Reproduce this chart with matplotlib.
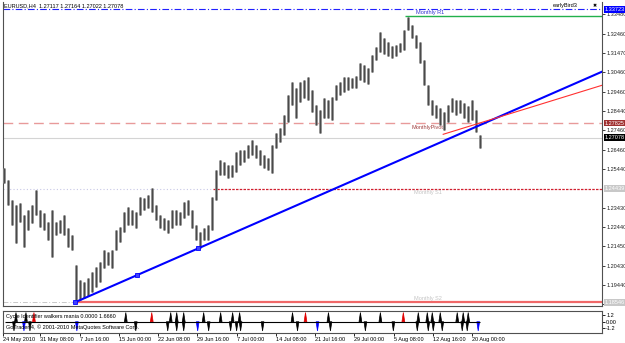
import matplotlib
matplotlib.use('Agg')
import matplotlib.pyplot as plt
import matplotlib.transforms as mtransforms
import numpy as np

# ---------------- data ----------------
symbol_text = "EURUSD,H4  1.27117 1.27164 1.27022 1.27078"
ea_name = "earlyBird3"

highs = [1.2550,1.2488,1.2385,1.2359,1.2369,1.2307,1.2333,1.2359,1.2436,1.2333,
         1.2317,1.2271,1.2333,1.2271,1.2281,1.2307,1.2240,1.2203,1.2048,1.1970,
         1.1960,1.1981,1.2012,1.2037,1.2063,1.2126,1.2115,1.2126,1.2229,1.2245,
         1.2322,1.2348,1.2333,1.2322,1.2400,1.2395,1.2410,1.2447,1.2359,1.2307,
         1.2291,1.2281,1.2333,1.2333,1.2322,1.2374,1.2385,1.2333,1.2255,1.2219,
         1.2240,1.2255,1.2400,1.2540,1.2592,1.2581,1.2566,1.2566,1.2633,1.2644,
         1.2644,1.2669,1.2695,1.2669,1.2644,1.2618,1.2602,1.2669,1.2732,1.2758,
         1.2825,1.2928,1.2996,1.2965,1.2996,1.3006,1.3022,1.2954,1.2877,1.2851,
         1.2913,1.2903,1.2918,1.2980,1.2996,1.3022,1.3022,1.3016,1.3027,1.3094,
         1.3084,1.3068,1.3136,1.3177,1.3255,1.3224,1.3203,1.3182,1.3187,1.3198,
         1.3265,1.3332,1.3291,1.3239,1.3203,1.3110,1.2980,1.2903,1.2877,1.2861,
         1.2840,1.2877,1.2913,1.2903,1.2903,1.2887,1.2871,1.2903,1.2851,1.2721]

lows = [1.2473,1.2359,1.2255,1.2162,1.2271,1.2141,1.2229,1.2265,1.2307,1.2245,
        1.2229,1.2177,1.2089,1.2203,1.2214,1.2203,1.2141,1.2126,1.1851,1.1867,
        1.1877,1.1887,1.1908,1.1934,1.1960,1.2032,1.2048,1.2032,1.2126,1.2167,
        1.2219,1.2255,1.2255,1.2240,1.2307,1.2333,1.2343,1.2322,1.2281,1.2240,
        1.2229,1.2214,1.2240,1.2255,1.2255,1.2291,1.2307,1.2240,1.2177,1.2136,
        1.2177,1.2177,1.2229,1.2385,1.2514,1.2514,1.2498,1.2504,1.2530,1.2566,
        1.2581,1.2602,1.2618,1.2602,1.2566,1.2550,1.2540,1.2524,1.2654,1.2685,
        1.2721,1.2789,1.2877,1.2809,1.2892,1.2913,1.2903,1.2840,1.2773,1.2732,
        1.2809,1.2809,1.2799,1.2903,1.2928,1.2944,1.2954,1.2965,1.2965,1.3006,
        1.2996,1.2985,1.3048,1.3110,1.3151,1.3141,1.3130,1.3120,1.3130,1.3151,
        1.3162,1.3265,1.3224,1.3172,1.3094,1.2980,1.2877,1.2825,1.2809,1.2773,
        1.2747,1.2789,1.2840,1.2825,1.2835,1.2809,1.2789,1.2799,1.2737,1.2654]

# price axis ticks
price_ticks = [1.33480, 1.32460, 1.31470, 1.30460, 1.29460, 1.28440, 1.27460,
               1.26460, 1.25440, 1.23430, 1.22440, 1.21450, 1.20430, 1.19440, 1.18460]

# time axis labels and their bar positions
time_labels = ["24 May 2010", "31 May 08:00", "7 Jun 16:00", "15 Jun 00:00", "22 Jun 08:00",
               "29 Jun 16:00", "7 Jul 00:00", "14 Jul 08:00", "21 Jul 16:00", "29 Jul 00:00",
               "5 Aug 08:00", "12 Aug 16:00", "20 Aug 00:00"]
time_pos = [-0.5, 8.8, 18.7, 28.5, 38.3, 48.2, 58.0, 67.8, 77.7, 87.5, 97.3, 107.2, 117.0]

# horizontal levels
level_top = 1.33723          # blue dash-dot line
monthly_r1 = 1.3337
monthly_pivot = 1.27825
current_price = 1.27078
monthly_s1 = 1.2444
monthly_s2 = 1.1854
r1_start, s1_start, s2_start = 100.25, 52.25, 17.75

# trend lines (bar, price)
trend_blue = [(17.75, 1.18546), (48.6, 1.21343)]
trend_red = [(109.8, 1.27248), (149.5, 1.29787)]

# Cycle identifier signals (bar positions)
up_black = [2.75, 5.25, 30.25, 41.5, 43, 44.75, 49.75, 54, 57, 58.75, 72, 81, 89, 94,
            103.5, 105.75, 107, 109, 113.25, 114.75, 116]
up_red = [7.25, 36.75, 75.25, 99.75]
dn_black = [2.25, 6.25, 32.75, 40.75, 43, 44.75, 51, 56.5, 58, 59, 64.5, 73.25, 81.5,
            90.25, 97.25, 103.25, 106, 107.25, 109.5, 114.5, 115.75]
dn_blue = [4.75, 18, 48.25, 78.25, 118.5]
spike = 1.666

# ---------------- figure ----------------
W, H = 625, 343
fig = plt.figure(figsize=(W / 100, H / 100), dpi=100)
plt.rcParams['font.family'] = ['Liberation Sans', 'DejaVu Sans']
FS = 4.0

def box(x0, y0, x1, y1):
    return [x0 / W, 1 - y1 / H, (x1 - x0) / W, (y1 - y0) / H]

ax = fig.add_axes(box(3, 2, 602, 306))
axs = fig.add_axes(box(3, 311, 602, 332.5))

xlim = (-0.25, 149.5)
ylim = (1.18354, 1.34101)
ax.set_xlim(*xlim)
ax.set_ylim(*ylim)
axs.set_xlim(*xlim)
axs.set_ylim(-1.94, 1.94)

for a in (ax, axs):
    for s in a.spines.values():
        s.set_color('#505050')
        s.set_linewidth(0.8)
ax.spines['top'].set_visible(False)

# bars
xb = np.arange(len(highs))
ax.vlines(xb, lows, highs, color='#8c8c8c', lw=2.0, zorder=3)
ax.vlines(xb, lows, highs, color='#4a4a4a', lw=0.8, zorder=3)

# horizontal levels
ax.axhline(level_top, color='#2020ff', lw=0.8, ls=(0, (6, 2, 1, 2)), zorder=2)
ax.hlines(monthly_r1, r1_start, xlim[1], color='#22b14c', lw=1.0, zorder=2)
ax.text(103, monthly_r1 + 0.0004, "Monthly R1", color='#3030d0', fontsize=FS, va='bottom', ha='left')
ax.axhline(monthly_pivot, color='#e89a9a', lw=1.0, ls=(0, (7, 4)), zorder=2)
ax.text(102, monthly_pivot - 0.0008, "MonthlyPivot", color='#a04040', fontsize=FS, va='top', ha='left', zorder=4)
ax.axhline(current_price, color='#d4d4d4', lw=0.8, zorder=1)
ax.hlines(monthly_s1, xlim[0], s1_start, color='#c8c8e6', lw=0.8, ls=(0, (1, 2)), zorder=2)
ax.hlines(monthly_s1, s1_start, xlim[1], color='#d02030', lw=0.9, ls=(0, (2, 1)), zorder=2)
ax.text(102.5, monthly_s1 - 0.0008, "Monthly S1", color='#c4c4c4', fontsize=FS, va='top', ha='left')
ax.hlines(monthly_s2, xlim[0], s2_start, color='#c8c8c8', lw=0.7, ls=(0, (5, 2, 1, 2)), zorder=2)
ax.hlines(monthly_s2, s2_start, xlim[1], color='#f06868', lw=1.6, zorder=2)
ax.text(102.5, monthly_s2 + 0.0006, "Monthly S2", color='#c4c4c4', fontsize=FS, va='bottom', ha='left')

# trend lines
(bx0, by0), (bx1, by1) = trend_blue
slope = (by1 - by0) / (bx1 - bx0)
ax.plot([bx0, xlim[1]], [by0, by0 + slope * (xlim[1] - bx0)], color='#0000ff', lw=1.5, zorder=5)
mx, my = (bx0 + bx1) / 2, (by0 + by1) / 2
ax.plot([bx0, mx, bx1], [by0, my, by1], ls='none', marker='s', ms=3, mfc='#4040ff',
        mec='#0000ff', mew=0.6, zorder=6)
(rx0, ry0), (rx1, ry1) = trend_red
ax.plot([rx0, rx1], [ry0, ry1], color='#ff3030', lw=0.8, zorder=5)

# axes ticks
ax.set_xticks([])
ax.yaxis.tick_right()
ax.set_yticks(price_ticks)
ax.set_yticklabels([f"{t:.5f}" for t in price_ticks])
ax.tick_params(axis='y', length=2, width=0.6, pad=1, labelsize=FS, colors='#202020')

# price tags on the right
trans = mtransforms.blended_transform_factory(ax.transAxes, ax.transData)
tags = [(level_top, "1.33723", '#0000ff'), (monthly_pivot, "1.27825", '#a03030'),
        (current_price, "1.27078", '#000000'), (monthly_s1, "1.24439", '#c8c8c8'),
        (monthly_s2, "1.18546", '#c8c8c8')]
for yv, txt, col in tags:
    ax.text(1.004, yv, txt, transform=trans, fontsize=FS, color='white', va='center', ha='left',
            bbox=dict(boxstyle='square,pad=0.15', fc=col, ec='none'), clip_on=False, zorder=10)

# header texts
fig.text(4 / W, 1 - 6.0 / H, symbol_text, fontsize=FS, va='center', ha='left', color='#000000')
fig.text(553 / W, 1 - 6.0 / H, ea_name, fontsize=FS, va='center', ha='left', color='#000000')
fig.text(593 / W, 1 - 6.0 / H, "\u2716", fontsize=FS - 0.5, va='center', ha='left', color='#000000',
         family='DejaVu Sans')

# indicator sub window
axs.hlines(0, 0, len(highs) - 1, color='black', lw=0.8)
def spikes(xs, h, col):
    for x in xs:
        axs.fill([x - 0.35, x, x + 0.35], [0, h, 0], color=col, lw=0.5, ec=col)
spikes(up_black, spike, 'black')
spikes(up_red, spike, '#e00000')
spikes(dn_black, -spike, 'black')
spikes(dn_blue, -spike, '#0000ff')
axs.text(0.3, 0.95, "Cycle Identifier walkers mania 0.0000 1.6660", fontsize=FS, va='center',
         ha='left')
axs.text(0.3, -0.95, "GoTrader 4, \u00a9 2001-2010 MetaQuotes Software Corp.", fontsize=FS,
         va='center', ha='left')
axs.yaxis.tick_right()
axs.set_yticks([1.2, 0.0, -1.2])
axs.set_yticklabels(["1.2", "0.00", "-1.2"])
axs.tick_params(axis='y', length=2, width=0.6, pad=1, labelsize=FS)
axs.set_xticks(time_pos)
axs.set_xticklabels(time_labels)
for lab in axs.get_xticklabels():
    lab.set_horizontalalignment('left')
axs.tick_params(axis='x', length=2, width=0.6, pad=1, labelsize=FS)

fig.savefig('out.png', dpi=100)
